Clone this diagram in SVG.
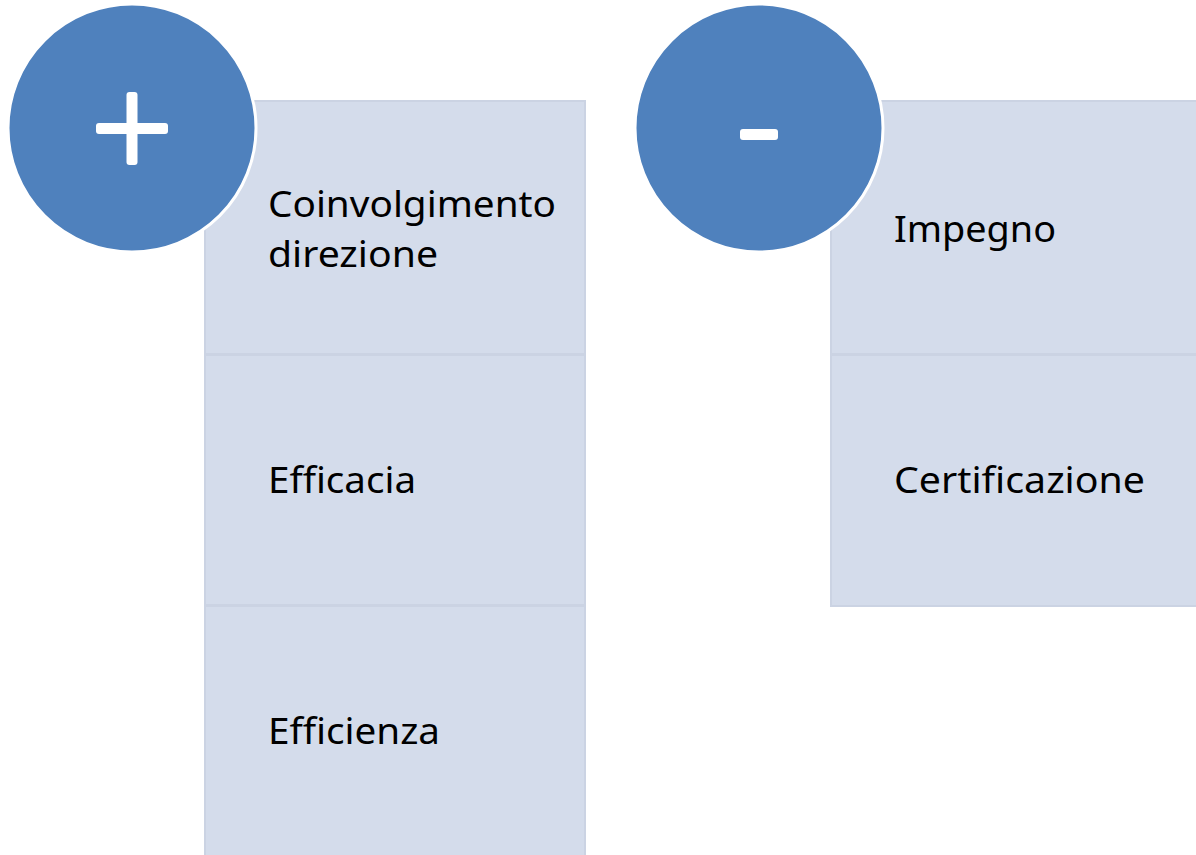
<svg xmlns="http://www.w3.org/2000/svg" width="1196" height="855" viewBox="0 0 1196 855">
<style>
.box{fill:#D4DCEB;stroke:#CBD3E3;stroke-width:2}
.circ{fill:#4F81BD;stroke:#FFFFFF;stroke-width:3}
.sign{fill:#FFFFFF}
.lbl{font-family:"Noto Sans","Open Sans",sans-serif;font-size:36px;fill:#000000}
</style>
<rect width="1196" height="855" fill="#FFFFFF"/>
<g id="plus-col">
  <g id="box-coinvolgimento">
    <rect class="box" x="205" y="101" width="380" height="253"/>
    <text class="lbl" x="268" y="217" textLength="288" lengthAdjust="spacingAndGlyphs">Coinvolgimento</text>
    <text class="lbl" x="268" y="267" textLength="170" lengthAdjust="spacingAndGlyphs">direzione</text>
  </g>
  <g id="box-efficacia">
    <rect class="box" x="205" y="355" width="380" height="250"/>
    <text class="lbl" x="268" y="493" textLength="148" lengthAdjust="spacingAndGlyphs">Efficacia</text>
  </g>
  <g id="box-efficienza">
    <rect class="box" x="205" y="606" width="380" height="252"/>
    <text class="lbl" x="268" y="744" textLength="172" lengthAdjust="spacingAndGlyphs">Efficienza</text>
  </g>
  <g id="circle-plus">
    <ellipse class="circ" cx="132" cy="128" rx="124" ry="124"/>
    <rect class="sign" x="126.5" y="92" width="11" height="73" rx="3"/>
    <rect class="sign" x="96" y="123" width="72" height="11" rx="3"/>
  </g>
</g>
<g id="minus-col">
  <g id="box-impegno">
    <rect class="box" x="831" y="101" width="368" height="253"/>
    <text class="lbl" x="894" y="242" textLength="162" lengthAdjust="spacingAndGlyphs">Impegno</text>
  </g>
  <g id="box-certificazione">
    <rect class="box" x="831" y="355" width="368" height="251"/>
    <text class="lbl" x="894" y="493" textLength="251" lengthAdjust="spacingAndGlyphs">Certificazione</text>
  </g>
  <g id="circle-minus">
    <ellipse class="circ" cx="759" cy="128" rx="124" ry="124"/>
    <rect class="sign" x="740" y="129" width="38" height="11" rx="3"/>
  </g>
</g>
<g id="connectors"></g>
</svg>
